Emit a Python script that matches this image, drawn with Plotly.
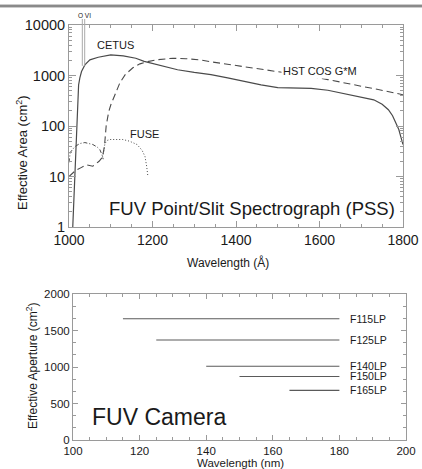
import numpy as np
import plotly.graph_objects as go

# ---- Effective area curves (wavelength in Angstrom, area in cm^2) ----
cetus_wl = [1009, 1011, 1013, 1017, 1019, 1021, 1023, 1026, 1030, 1038, 1050, 1070,
            1100, 1130, 1160, 1180, 1220, 1260, 1300, 1340, 1380, 1420, 1460, 1500,
            1540, 1580, 1620, 1660, 1700, 1730, 1750, 1765, 1775, 1785, 1790, 1795, 1800]
cetus_area = [1, 2.5, 7, 27, 100, 300, 650, 900, 1200, 1620, 2040, 2300,
              2550, 2450, 2200, 1900, 1550, 1300, 1150, 1040, 900, 760, 650, 575,
              565, 555, 510, 440, 380, 330, 270, 210, 160, 110, 85, 60, 43]

cos_wl = [1000, 1015, 1029, 1041, 1057, 1072, 1080, 1085, 1089, 1095, 1100, 1110,
          1122, 1135, 1153, 1170, 1187, 1210, 1249, 1280, 1314, 1340, 1380, 1419,
          1460, 1500, 1540, 1580, 1620, 1659, 1690, 1724, 1760, 1800]
cos_area = [10, 13, 15, 17, 16, 20, 24, 40, 100, 190, 260, 430,
            720, 1050, 1420, 1700, 1870, 2050, 2200, 2150, 2040, 1870, 1680, 1490,
            1330, 1180, 1060, 950, 830, 720, 640, 575, 490, 415]

fuse_a_wl = [1000, 1003, 1014, 1026, 1038, 1057, 1068, 1074, 1079, 1082]
fuse_a_area = [19, 30, 39, 45, 47, 43, 38, 34, 27, 22]
fuse_b_wl = [1080, 1083, 1086, 1092, 1098, 1115, 1129, 1145, 1163, 1175, 1182, 1186, 1189]
fuse_b_area = [24, 30, 45, 52, 54, 55, 54, 50, 43, 33, 25, 16, 10]

ovi_wl = [1031.9, 1037.6]

area_ticks = [1, 10, 100, 1000, 10000]
area_ticktext = ["1", "10", "100", "1000", "10000"]

# ---- FUV camera filters (wavelength in nm, aperture in cm^2) ----
filters = ["F115LP", "F125LP", "F140LP", "F150LP", "F165LP"]
cuton_nm = [115, 125, 140, 150, 165]
cutoff_nm = [180, 180, 180, 180, 180]
aperture = [1660, 1370, 1010, 870, 680]

W, H = 422, 469
FONT = "Liberation Sans, Arial, Helvetica, sans-serif"
TXT = "#1a1a1a"
AX = "#9a9a9a"
CURVE = "#4a4a4a"
RULE = "#8a8a8a"


def px_x(p):
    return p / W


def px_y(p):
    return 1 - p / H


top_x = [px_x(69), px_x(403)]
top_y = [px_y(227), px_y(25)]
bot_x = [px_x(73), px_x(406)]
bot_y = [px_y(440), px_y(294)]
rule_y = [px_y(12), 1.0]

fig = go.Figure()

line_kw = dict(mode="lines", hoverinfo="skip", showlegend=False)
fig.add_trace(go.Scatter(x=cetus_wl, y=cetus_area, xaxis="x", yaxis="y",
                         line=dict(color=CURVE, width=1.2), **line_kw))
fig.add_trace(go.Scatter(x=cos_wl, y=cos_area, xaxis="x", yaxis="y",
                         line=dict(color=CURVE, width=1.1, dash="7px,4px"), **line_kw))
fig.add_trace(go.Scatter(x=fuse_a_wl, y=fuse_a_area, xaxis="x", yaxis="y",
                         line=dict(color=CURVE, width=1.0, dash="4px,2px,1px,2px"), **line_kw))
fig.add_trace(go.Scatter(x=fuse_b_wl, y=fuse_b_area, xaxis="x", yaxis="y",
                         line=dict(color=CURVE, width=1.0, dash="1px,2px"), **line_kw))

for f, a, b, v in zip(filters, cuton_nm, cutoff_nm, aperture):
    fig.add_trace(go.Scatter(x=[a, b], y=[v, v], xaxis="x2", yaxis="y2",
                             line=dict(color="#5a5a5a", width=1.1), **line_kw))

# Header rule across the full page width, on its own hidden axis pair
fig.add_trace(go.Scatter(x=[0, 1], y=[0.5, 0.5], xaxis="x3", yaxis="y3",
                         line=dict(color=RULE, width=2.5), **line_kw))
fig.add_shape(type="line", xref="paper", yref="paper", x0=0, x1=1,
              y0=px_y(6), y1=px_y(6), layer="above", line=dict(color=RULE, width=2.5))

# O VI doublet markers (extend slightly above the top axis)
ovi_bottom = top_y[0] + (np.log10(1550) / 4) * (top_y[1] - top_y[0])
for w in ovi_wl:
    fig.add_shape(type="line", xref="x", yref="paper", x0=w, x1=w,
                  y0=ovi_bottom, y1=px_y(19), line=dict(color="#aaaaaa", width=1))

axis_common = dict(showline=True, linecolor=AX, linewidth=1, mirror="ticks",
                   ticks="inside", tickcolor=AX, showgrid=False, zeroline=False,
                   automargin=False)

fig.update_layout(
    width=W, height=H,
    margin=dict(l=0, r=0, t=0, b=0, pad=0),
    paper_bgcolor="white", plot_bgcolor="rgba(0,0,0,0)",
    xaxis=dict(domain=top_x, anchor="y", range=[1000, 1800], tickmode="linear",
               tick0=1000, dtick=200, ticklen=6,
               minor=dict(ticks="inside", dtick=50, ticklen=3, tickcolor=AX),
               tickfont=dict(family=FONT, color=TXT, size=14), **axis_common),
    yaxis=dict(domain=top_y, anchor="x", type="log", range=[0, 4],
               tickmode="array", tickvals=area_ticks, ticktext=area_ticktext,
               ticklen=7,
               minor=dict(ticks="inside", dtick="D1", ticklen=3, tickcolor=AX),
               tickfont=dict(family=FONT, color=TXT, size=14.5), **axis_common),
    xaxis2=dict(domain=bot_x, anchor="y2", range=[100, 200], tickmode="linear",
                tick0=100, dtick=20, ticklen=5,
                minor=dict(ticks="inside", dtick=5, ticklen=3, tickcolor=AX),
                tickfont=dict(family=FONT, color=TXT, size=11.5), **axis_common),
    yaxis2=dict(domain=bot_y, anchor="x2", range=[0, 2000], tickmode="linear",
                tick0=0, dtick=500, ticklen=5,
                minor=dict(ticks="inside", dtick=500 / 3, ticklen=3, tickcolor=AX),
                tickfont=dict(family=FONT, color=TXT, size=11.5), **axis_common),
    xaxis3=dict(domain=[0, 1], anchor="y3", range=[0, 1], visible=False,
                automargin=False),
    yaxis3=dict(domain=rule_y, anchor="x3", range=[0, 1], visible=False,
                automargin=False),
)

ann = []


def label(text, x, y, size, xref, yref, xanchor="center", yanchor="middle", angle=0,
          bg=None):
    a = dict(text=text, x=x, y=y, xref=xref, yref=yref, showarrow=False,
             xanchor=xanchor, yanchor=yanchor, textangle=angle,
             font=dict(family=FONT, size=size, color=TXT))
    if bg:
        a.update(bgcolor=bg, borderpad=1)
    ann.append(a)


# Top panel text
label("CETUS", 1112, np.log10(4040), 11, "x", "y")
label("HST COS G*M", 1601, np.log10(1240), 11, "x", "y", bg="white")
label("FUSE", 1180, np.log10(71), 11, "x", "y")
label("FUV Point/Slit Spectrograph (PSS)", 1091, np.log10(2.37), 18.5, "x", "y",
      xanchor="left")
label("O VI", px_x(84), px_y(15), 6.5, "paper", "paper")
label("Wavelength (Å)", px_x(228), px_y(262), 12, "paper", "paper")
label("Effective Area (cm<sup>2</sup>)", px_x(22), px_y(153), 13, "paper", "paper",
      angle=-90)

# Bottom panel text
for f, v in zip(filters, aperture):
    label(f, 182.5, v, 10.5, "x2", "y2", xanchor="left")
label("FUV Camera", 105, 315, 23, "x2", "y2", xanchor="left")
label("Wavelength (nm)", px_x(240), px_y(463), 11.5, "paper", "paper")
label("Effective Aperture (cm<sup>2</sup>)", px_x(32), px_y(366), 12, "paper", "paper",
      angle=-90)

fig.update_layout(annotations=ann)

fig.write_html("out.html", config={"displayModeBar": False})
